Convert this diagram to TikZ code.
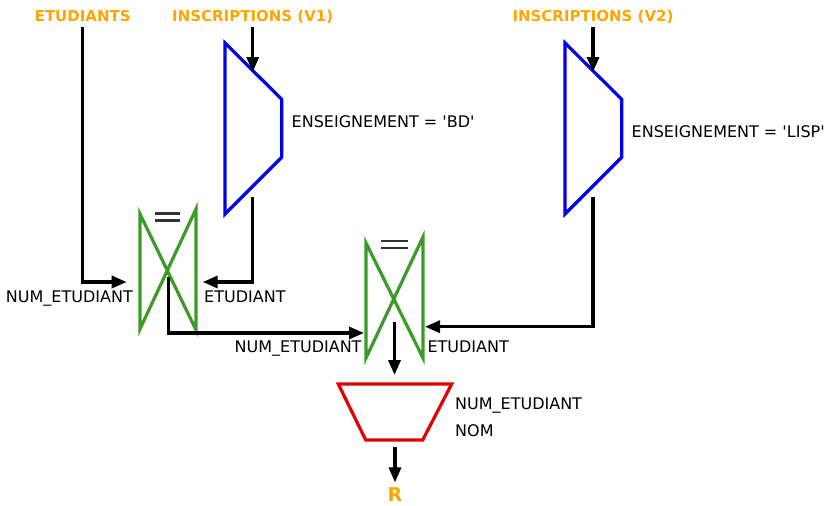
\documentclass[tikz,border=0pt]{standalone}
\usepackage{fontspec}
\setmainfont{DejaVu Sans}
\usetikzlibrary{arrows.meta}

\definecolor{relorange}{RGB}{255,165,0}
\definecolor{selblue}{RGB}{0,0,235}
\definecolor{joingreen}{RGB}{58,155,40}
\definecolor{projred}{RGB}{228,0,0}

\tikzset{
  rel/.style={anchor=base, inner sep=0pt, text=relorange, font=\fontsize{15}{18}\selectfont\bfseries},
  attr/.style={inner sep=0pt, font=\fontsize{16}{19}\selectfont},
  flow/.style={line width=3.2pt, -{Triangle[length=15pt,width=12pt]}},
  sel/.style={draw=selblue, line width=3.2pt},
  joinbox/.style={draw=joingreen, line width=3.2pt},
  proj/.style={draw=projred, line width=3.2pt},
  eqbar/.style={draw=black!80, line width=2.2pt},
}

\begin{document}
\begin{tikzpicture}[x=1pt,y=-1pt]
    \useasboundingbox (0,0) rectangle (828,506);

    \node[rel] (etu) at (82.7,21) {ETUDIANTS};
    \node[rel] (insc1) at (252.7,21) {INSCRIPTIONS (V1)};
    \node[rel] (insc2) at (593,21) {INSCRIPTIONS (V2)};
    \node[rel, font=\fontsize{19}{23}\selectfont\bfseries] (res) at (395,501.5) {R};

    % selections
    \draw[sel] (225,43) -- (281.7,99.3) -- (281.7,157.3) -- (225,214) -- cycle;
    \draw[sel] (565,43) -- (621.7,99.3) -- (621.7,157.3) -- (565,214) -- cycle;
    \node[attr, anchor=base west] (cond1) at (291.5,127) {ENSEIGNEMENT = \textquotesingle BD\textquotesingle};
    \node[attr, anchor=base west] (cond2) at (631.5,137) {ENSEIGNEMENT = \textquotesingle LISP\textquotesingle};

    % joins
    \draw[joinbox] (140,214) -- (196,330) -- (196,209) -- (140,329) -- cycle;
    \draw[joinbox] (366,243) -- (423,358) -- (423,237) -- (366,358) -- cycle;
    \draw[eqbar] (155,213.5) -- (180,213.5) (155,220.5) -- (180,220.5);
    \draw[eqbar] (381,241) -- (408,241) (381,248) -- (408,248);
    \node[attr, anchor=base east] (key1a) at (133,302) {NUM\_ETUDIANT};
    \node[attr, anchor=base west] (key1b) at (204,302) {ETUDIANT};
    \node[attr, anchor=base east] (key2a) at (361.7,352) {NUM\_ETUDIANT};
    \node[attr, anchor=base west] (key2b) at (427.3,352) {ETUDIANT};

    % projection
    \draw[proj] (338.3,384) -- (451.7,384) -- (422.7,440) -- (365.7,440) -- cycle;
    \node[attr, anchor=base west] (att1) at (455,409) {NUM\_ETUDIANT};
    \node[attr, anchor=base west] (att2) at (455,436) {NOM};

    \coordinate (s1in) at (252.7,72);
    \coordinate (s1out) at (252.7,197);
    \coordinate (s2in) at (593,72);
    \coordinate (s2out) at (593,197);
    \coordinate (j1a) at (126.7,282);
    \coordinate (j1b) at (202.7,282);
    \coordinate (j1out) at (168.5,277);
    \coordinate (j2a) at (364,333);
    \coordinate (j2b) at (425,326.7);
    \coordinate (j2out) at (394.5,322);
    \coordinate (pin) at (394.5,375);
    \coordinate (pout) at (395,447);

    \draw[flow] ([yshift=-6pt]etu.base) |- (j1a);
    \draw[flow] ([yshift=-6pt]insc1.base) -- (s1in);
    \draw[flow] (s1out) |- (j1b);
    \draw[flow] (j1out) |- (j2a);
    \draw[flow] ([yshift=-6pt]insc2.base) -- (s2in);
    \draw[flow] (s2out) |- (j2b);
    \draw[flow] (j2out) -- (pin);
    \draw[flow] (pout) -- ([yshift=5pt]res.north);
\end{tikzpicture}
\end{document}
